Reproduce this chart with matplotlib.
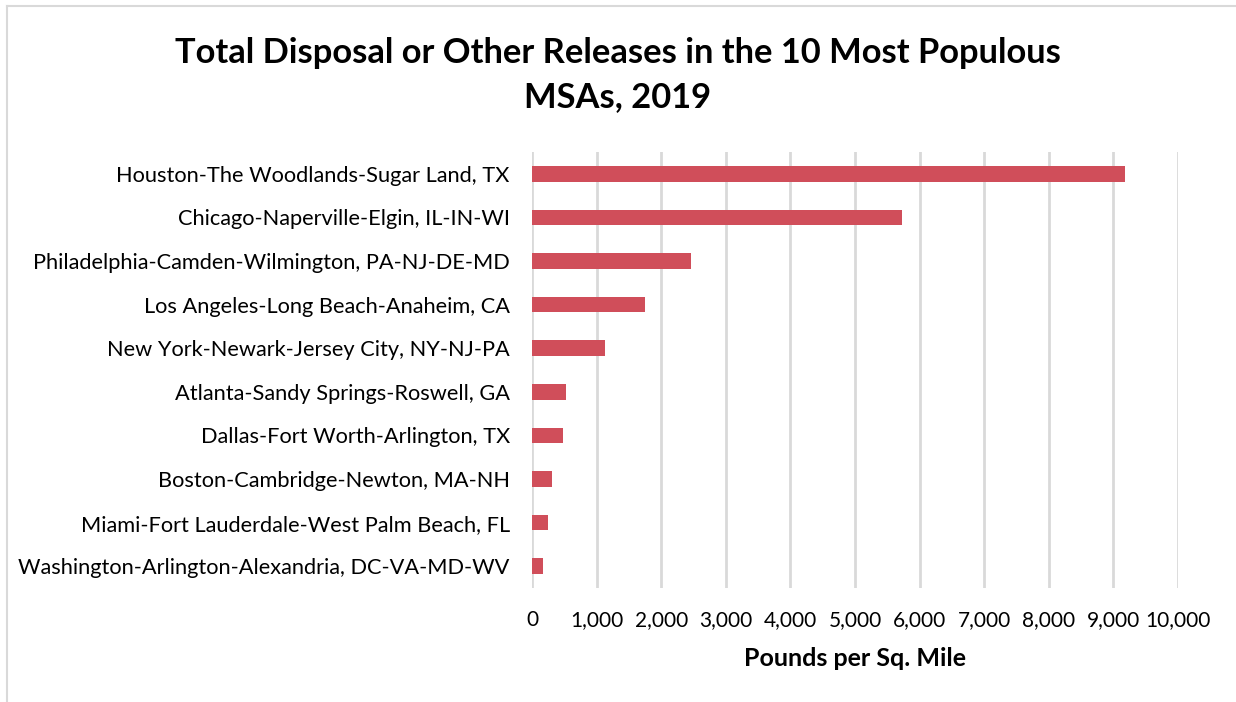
import matplotlib.pyplot as plt
import numpy as np

msas = ['Houston-The Woodlands-Sugar Land, TX',
        'Chicago-Naperville-Elgin, IL-IN-WI',
        'Philadelphia-Camden-Wilmington, PA-NJ-DE-MD',
        'Los Angeles-Long Beach-Anaheim, CA',
        'New York-Newark-Jersey City, NY-NJ-PA',
        'Atlanta-Sandy Springs-Roswell, GA',
        'Dallas-Fort Worth-Arlington, TX',
        'Boston-Cambridge-Newton, MA-NH',
        'Miami-Fort Lauderdale-West Palm Beach, FL',
        'Washington-Arlington-Alexandria, DC-VA-MD-WV']
pounds_per_sq_mile = [9180, 5720, 2460, 1750, 1130, 525, 480, 310, 245, 170]
xticks = [0, 1000, 2000, 3000, 4000, 5000, 6000, 7000, 8000, 9000, 10000]

plt.rcParams['font.family'] = ['Lato', 'DejaVu Sans']

fig = plt.figure(figsize=(12.36, 7.02), dpi=100)
ax = fig.add_axes([532 / 1236, 1 - 588 / 702, (1178 - 532) / 1236, (588 - 152) / 702])

pos = np.arange(len(msas))
ax.barh(pos, pounds_per_sq_mile, height=0.36, color='#d04e5a', zorder=2)
ax.set_ylim(len(msas) - 0.5, -0.5)
ax.set_xlim(0, 10000)
ax.set_xticks(xticks)
ax.set_xticklabels([f'{v:,}' for v in xticks], fontsize=15, color='#000000')
ax.set_yticks(pos)
ax.set_yticklabels(msas, fontsize=15.7, color='#000000')
ax.tick_params(axis='both', length=0)
ax.tick_params(axis='y', pad=16)
ax.tick_params(axis='x', pad=16)
ax.grid(axis='x', color='#d9d9d9', linewidth=2, zorder=0)
for s in ax.spines.values():
    s.set_visible(False)
ax.set_xlabel('Pounds per Sq. Mile', fontsize=18, fontweight='bold', labelpad=12)

fig.text(0.5, 1 - 75 / 702, 'Total Disposal or Other Releases in the 10 Most Populous\nMSAs, 2019',
         ha='center', va='center', fontsize=24.8, fontweight='bold', linespacing=1.45)

# light chart border
fig.add_artist(plt.Line2D([7 / 1236, 7 / 1236], [0, 1 - 6 / 702], transform=fig.transFigure,
                          color='#d9d9d9', linewidth=1.5))
fig.add_artist(plt.Line2D([7 / 1236, 1], [1 - 6 / 702, 1 - 6 / 702], transform=fig.transFigure,
                          color='#d9d9d9', linewidth=1.5))

fig.savefig('out.png', dpi=100, facecolor='white')
